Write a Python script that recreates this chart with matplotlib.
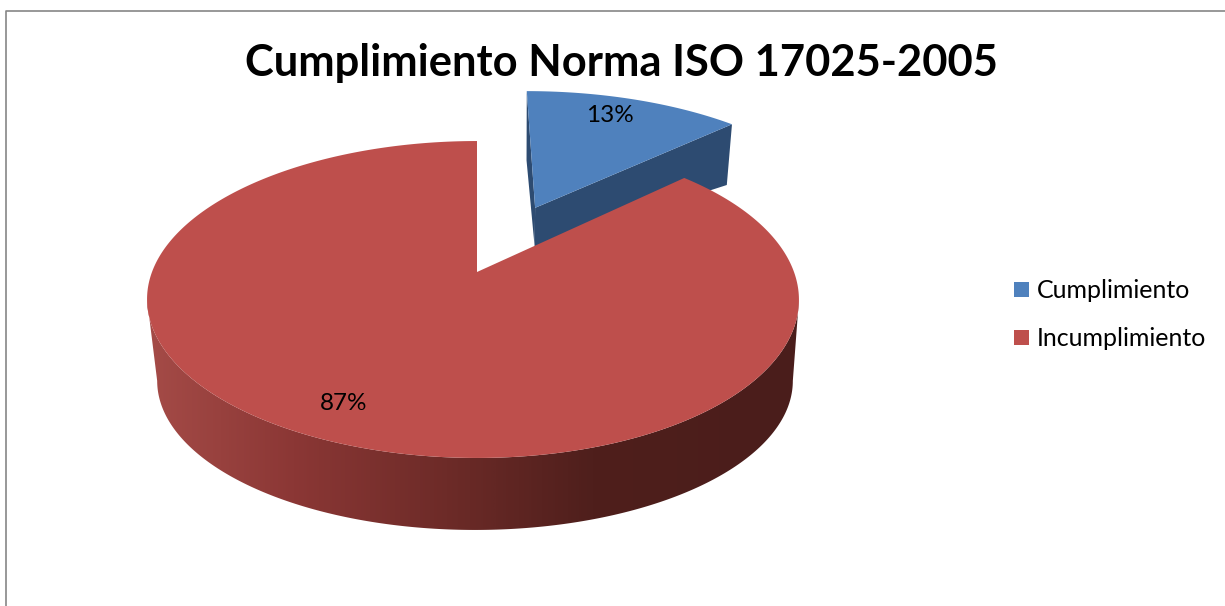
import numpy as np
import matplotlib
matplotlib.use('Agg')
import matplotlib.pyplot as plt
from matplotlib.colors import LinearSegmentedColormap

categories = ['Cumplimiento', 'Incumplimiento']
shares = [13, 87]
title = 'Cumplimiento Norma ISO 17025-2005'

plt.rcParams['font.family'] = ['Lato', 'DejaVu Sans']

BLUE, RED = '#4f81bd', '#be4f4c'
BLUE_DARK = '#2d4b71'
HORIZON = 0.1735  # perspective of the pie plane

# projection of a point of the unit circle plane onto the picture
def proj(x, y, cx, cy, a, b, lean=0):
    w = 1 + HORIZON * y
    return cx + (a - lean * x) * x / w, (cy - b * y) / w

TOP = (477, 272, 321, 106.5, 4)
FLOOR = (475, 355, 313, 83)
BLUE_TOP = (475, 273.5, 333, 110)
BLUE_FLOOR = (476, 295.7, 325, 65.5)

fig = plt.figure(figsize=(12.25, 6.06), dpi=100)
ax = fig.add_axes([0, 0, 1, 1])
ax.axis('off')

# chart border, only top and left are in the crop
ax.plot([6, 6, 1225], [606, 11, 11], color='#868686', lw=1.2)

# angles of the slices, clockwise from the top
split = np.radians(90 - 360 * shares[0] / sum(shares))
mid = np.radians(90 - 180 * shares[0] / sum(shares))
dx, dy = 0.49 * np.cos(mid), 0.49 * np.sin(mid)

# blue slice, pulled out of the pie
t = np.linspace(np.pi / 2, split, 60)
ox, oy = dx + np.cos(t), dy + np.sin(t)

ax.fill(*zip(proj(dx, dy, *BLUE_TOP), proj(dx, dy, *BLUE_FLOOR),
             proj(ox[0], oy[0], *BLUE_FLOOR), proj(ox[0], oy[0], *BLUE_TOP)),
        color=BLUE_DARK, lw=0, zorder=2)
ax.fill(*zip(proj(dx, dy, *BLUE_TOP), proj(dx, dy, *BLUE_FLOOR),
             proj(ox[-1], oy[-1], *BLUE_FLOOR), proj(ox[-1], oy[-1], *BLUE_TOP)),
        color=BLUE_DARK, lw=0, zorder=2)
bx, by = proj(ox, oy, *BLUE_TOP)
ax.fill(np.r_[proj(dx, dy, *BLUE_TOP)[0], bx], np.r_[proj(dx, dy, *BLUE_TOP)[1], by],
        color=BLUE, lw=0, zorder=3)

# red wall, gradient image clipped to the wall outline
shade = LinearSegmentedColormap.from_list('wall', [
    (0.0, '#a64c48'), (0.23, '#8b3735'), (0.46, '#6d2b28'),
    (0.68, '#4f1f1c'), (1.0, '#4a1d1b')])
t = np.radians(np.linspace(190, 350, 401))
x1, y1 = proj(np.cos(t), np.sin(t), *TOP)
x2, y2 = proj(np.cos(t), np.sin(t), *FLOOR)
wall = ax.fill(np.r_[x1, x2[::-1]], np.r_[y1, y2[::-1]], color='none', lw=0)[0]
grad = ax.imshow(np.linspace(0, 1, 650).reshape(1, -1), cmap=shade, aspect='auto',
                 extent=(140, 805, 540, 280), zorder=4, interpolation='bilinear')
grad.set_clip_path(wall)

# red top
t = np.linspace(split, np.radians(-270), 500)
rx, ry = proj(np.cos(t), np.sin(t), *TOP)
ax.fill(np.r_[TOP[0], rx], np.r_[TOP[1], ry], color=RED, lw=0, zorder=5)

# labels
ax.text(610, 116, '%d%%' % shares[0], fontsize=17.5, ha='center', va='center', color='black', zorder=6)
ax.text(344, 404, '%d%%' % shares[1], fontsize=17.5, ha='center', va='center', color='black', zorder=6)
ax.text(621, 63, title, fontsize=31.3, fontweight='bold', ha='center', va='center', color='black', zorder=6)

# legend
for name, col, yc in zip(categories, [BLUE, RED], [289.5, 337.5]):
    ax.fill([1014, 1029, 1029, 1014], [yc - 7.5, yc - 7.5, yc + 7.5, yc + 7.5], color=col, lw=0)
    ax.text(1037, yc + 0.5, name, fontsize=18, ha='left', va='center', color='black')

ax.set_xlim(0, 1225)
ax.set_ylim(606, 0)
fig.savefig('out.png', dpi=100)
